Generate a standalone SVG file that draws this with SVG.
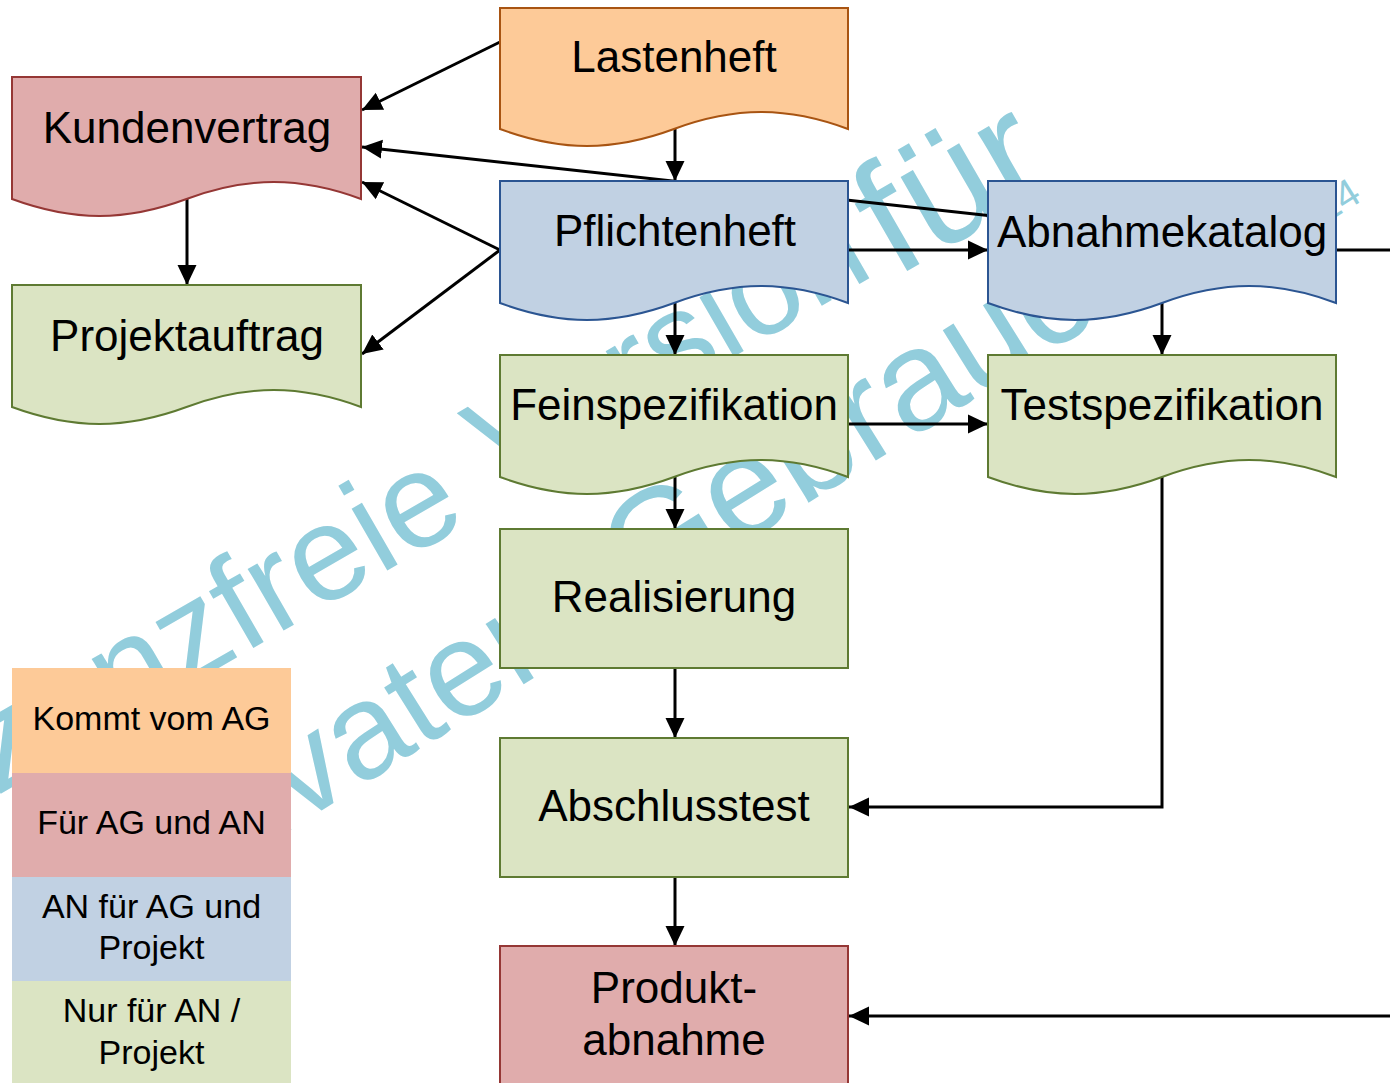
<svg xmlns="http://www.w3.org/2000/svg" width="1390" height="1083" viewBox="0 0 1390 1083">
  <defs>
    <marker id="arrow" markerUnits="userSpaceOnUse" markerWidth="20" markerHeight="20" refX="20" refY="10" orient="auto">
      <path d="M0,0.5 L20,10 L0,19.5 Z" fill="#000"/>
    </marker>
    <style>
      .wm { font-family: "Liberation Sans", Arial, sans-serif; fill: #92CDDC; }
      .lbl { font-family: "Liberation Sans", Arial, sans-serif; font-size: 44px; fill: #000; text-anchor: middle; }
      .leg { font-family: "Liberation Sans", Arial, sans-serif; font-size: 34px; fill: #000; text-anchor: middle; }
      .edge { fill: none; stroke: #000; stroke-width: 3; }
      .arr { marker-end: url(#arrow); }
      .orange { fill: #FDCA98; stroke: #A85412; stroke-width: 2; }
      .red { fill: #E0ACAC; stroke: #953735; stroke-width: 2; }
      .blue { fill: #C1D1E3; stroke: #2B5592; stroke-width: 2; }
      .green { fill: #DBE4C3; stroke: #5E7A32; stroke-width: 2; }
    </style>
  </defs>
  <rect width="1390" height="1083" fill="#fff"/>

  <g id="watermark">
    <text class="wm" font-size="135" transform="translate(-95,849) rotate(-30)">Lizenzfreie</text>
    <text class="wm" font-size="130" transform="translate(501,491) rotate(-30)">Version</text>
    <text class="wm" font-size="160" transform="translate(895,278) rotate(-30)">für</text>
    <text class="wm" font-size="135" transform="translate(172,904) rotate(-32)">privaten</text>
    <text class="wm" font-size="142" transform="translate(640,608) rotate(-32)">Gebrauch</text>
    <text class="wm" font-size="40" transform="translate(1288,247) rotate(-32)">2024</text>
  </g>

  <g id="connectors">
    <line class="edge arr" x1="500" y1="42" x2="362" y2="110"/>
    <line class="edge arr" x1="988" y1="215.5" x2="362" y2="147"/>
    <line class="edge arr" x1="500" y1="250" x2="362" y2="182"/>
    <line class="edge arr" x1="500" y1="250" x2="362" y2="354"/>
    <line class="edge arr" x1="187" y1="199" x2="187" y2="285"/>
    <line class="edge arr" x1="675" y1="129" x2="675" y2="181"/>
    <line class="edge arr" x1="675" y1="303" x2="675" y2="355"/>
    <line class="edge arr" x1="675" y1="477" x2="675" y2="529"/>
    <line class="edge arr" x1="675" y1="668" x2="675" y2="738"/>
    <line class="edge arr" x1="675" y1="877" x2="675" y2="946"/>
    <line class="edge arr" x1="848" y1="250" x2="988" y2="250"/>
    <line class="edge arr" x1="848" y1="424" x2="988" y2="424"/>
    <line class="edge arr" x1="1162" y1="303" x2="1162" y2="355"/>
    <polyline class="edge arr" points="1162,477 1162,807 849,807"/>
    <line class="edge" x1="1336" y1="250" x2="1390" y2="250"/>
    <line class="edge arr" x1="1390" y1="1016" x2="849" y2="1016"/>
  </g>

  <g id="lastenheft">
    <path class="orange" d="M500,8 H848 V129 C787,106.4 735,106.4 674,129 C613,151.6 561,151.6 500,129 Z"/>
    <text class="lbl" x="674" y="72">Lastenheft</text>
  </g>
  <g id="kundenvertrag">
    <path class="red" d="M12,77 H361 V199 C300,176.4 247.5,176.4 186.5,199 C125.5,221.6 73.5,221.6 12,199 Z"/>
    <text class="lbl" x="187" y="143">Kundenvertrag</text>
  </g>
  <g id="projektauftrag">
    <path class="green" d="M12,285 H361 V407 C300,384.4 247.5,384.4 186.5,407 C125.5,429.6 73.5,429.6 12,407 Z"/>
    <text class="lbl" x="187" y="351">Projektauftrag</text>
  </g>
  <g id="pflichtenheft">
    <path class="blue" d="M500,181 H848 V303 C787,280.4 735,280.4 674,303 C613,325.6 561,325.6 500,303 Z"/>
    <text class="lbl" x="675" y="246">Pflichtenheft</text>
  </g>
  <g id="abnahmekatalog">
    <path class="blue" d="M988,181 H1336 V303 C1275,280.4 1223,280.4 1162,303 C1101,325.6 1049,325.6 988,303 Z"/>
    <text class="lbl" x="1162" y="247">Abnahmekatalog</text>
  </g>
  <g id="feinspezifikation">
    <path class="green" d="M500,355 H848 V477 C787,454.4 735,454.4 674,477 C613,499.6 561,499.6 500,477 Z"/>
    <text class="lbl" x="674" y="420">Feinspezifikation</text>
  </g>
  <g id="testspezifikation">
    <path class="green" d="M988,355 H1336 V477 C1275,454.4 1223,454.4 1162,477 C1101,499.6 1049,499.6 988,477 Z"/>
    <text class="lbl" x="1162" y="420">Testspezifikation</text>
  </g>
  <g id="realisierung">
    <rect class="green" x="500" y="529" width="348" height="139"/>
    <text class="lbl" x="674" y="612">Realisierung</text>
  </g>
  <g id="abschlusstest">
    <rect class="green" x="500" y="738" width="348" height="139"/>
    <text class="lbl" x="674" y="821">Abschlusstest</text>
  </g>
  <g id="produktabnahme">
    <rect class="red" x="500" y="946" width="348" height="150"/>
    <text class="lbl" x="674" y="1003">Produkt-</text>
    <text class="lbl" x="674" y="1055">abnahme</text>
  </g>

  <g id="legend">
    <rect x="12" y="668" width="279" height="105" fill="#FDCA98"/>
    <rect x="12" y="773" width="279" height="104" fill="#E0ACAC"/>
    <rect x="12" y="877" width="279" height="104" fill="#C1D1E3"/>
    <rect x="12" y="981" width="279" height="102" fill="#DBE4C3"/>
    <text class="leg" x="151.5" y="730">Kommt vom AG</text>
    <text class="leg" x="151.5" y="834">Für AG und AN</text>
    <text class="leg" x="151.5" y="918">AN für AG und</text>
    <text class="leg" x="151.5" y="959">Projekt</text>
    <text class="leg" x="151.5" y="1022">Nur für AN /</text>
    <text class="leg" x="151.5" y="1064">Projekt</text>
  </g>
</svg>
